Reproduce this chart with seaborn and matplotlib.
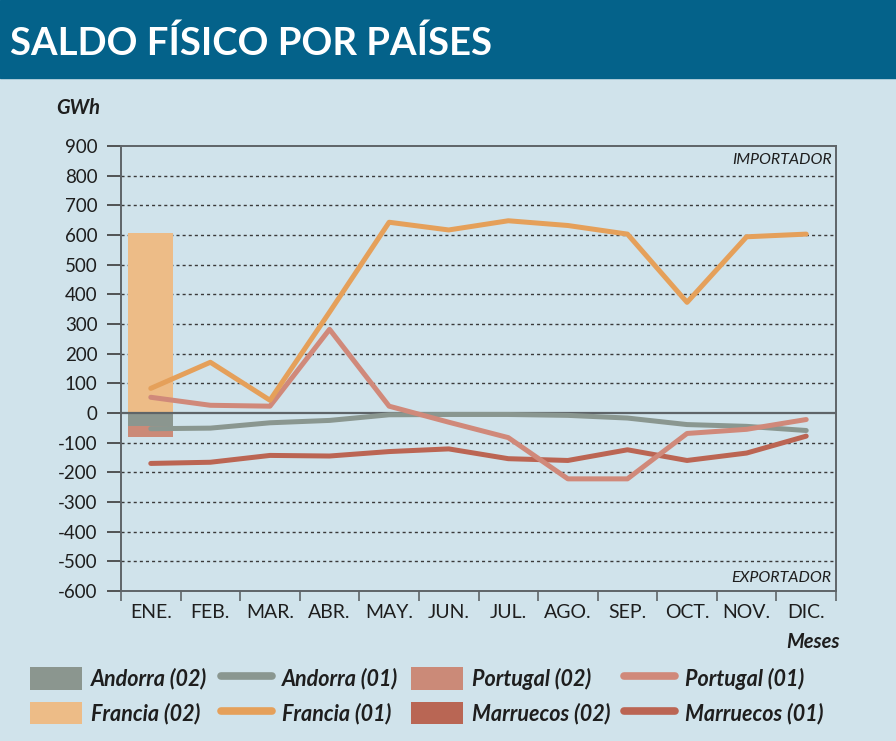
import numpy as np
import pandas as pd
import matplotlib
matplotlib.use('Agg')
import matplotlib.pyplot as plt
import seaborn as sns
from matplotlib.patches import Patch, Rectangle
from matplotlib.lines import Line2D
from matplotlib.ticker import FixedLocator

# datos (GWh)
months = ['ENE.', 'FEB.', 'MAR.', 'ABR.', 'MAY.', 'JUN.',
          'JUL.', 'AGO.', 'SEP.', 'OCT.', 'NOV.', 'DIC.']
andorra_01   = [-53, -51, -33, -25, -6, -5, -5, -8, -17, -39, -45, -59]
portugal_01  = [53, 26, 23, 282, 23, -31, -83, -222, -222, -69, -55, -22]
francia_01   = [83, 171, 43, 340, 643, 617, 648, 632, 603, 373, 594, 603]
marruecos_01 = [-170, -166, -143, -145, -130, -121, -154, -160, -124, -160, -135, -78]

# saldo (02): solo enero
bar_month = 'ENE.'
andorra_02, portugal_02, francia_02, marruecos_02 = -45, -80, 607, -82

yticks = list(range(-600, 1000, 100))

BG = '#d0e3eb'
HEADER = '#04628a'
line_colors = {'Andorra': '#8a9790', 'Portugal': '#d0897a',
               'Francia': '#e5a05a', 'Marruecos': '#bb6553'}
bar_colors = {'Andorra': '#8b968f', 'Portugal': '#cb8a78',
              'Francia': '#edbc87', 'Marruecos': '#b96654'}

sns.set_theme(style='white')
plt.rcParams['font.family'] = ['Lato', 'DejaVu Sans']

df_lines = pd.DataFrame({
    'pos': list(range(len(months))) * 4,
    'valor': andorra_01 + marruecos_01 + portugal_01 + francia_01,
    'serie': (['Andorra'] * 12 + ['Marruecos'] * 12 +
              ['Portugal'] * 12 + ['Francia'] * 12),
})
df_bars = pd.DataFrame({
    'mes': [bar_month] * 4,
    'valor': [marruecos_02, portugal_02, andorra_02, francia_02],
    'serie': ['Marruecos', 'Portugal', 'Andorra', 'Francia'],
})

fig = plt.figure(figsize=(8.96, 7.41), dpi=100, facecolor=BG)
ax = fig.add_axes([121 / 896, 150 / 741, 715 / 896, 445 / 741])
ax.set_facecolor(BG)

# rejilla
for v in yticks[1:-1]:
    if v == 0:
        continue
    ax.axhline(v, color='#3a3a3a', lw=1.0, ls=(0, (2.2, 2.2)), zorder=0.5)

sns.barplot(data=df_bars, x='mes', y='valor', hue='serie', order=months,
            hue_order=['Marruecos', 'Portugal', 'Andorra', 'Francia'],
            palette=bar_colors, dodge=False, width=0.75, saturation=1,
            linewidth=0, edgecolor='none',
            legend=False, ax=ax, zorder=1)

ax.axhline(0, color='#5e6468', lw=1.6, zorder=2)

sns.lineplot(data=df_lines, x='pos', y='valor', hue='serie',
             hue_order=['Andorra', 'Marruecos', 'Portugal', 'Francia'],
             palette=line_colors, linewidth=3.6, legend=False, sort=False,
             ax=ax, zorder=3)
for ln in ax.lines:
    ln.set_solid_capstyle('round')

ax.set_xlim(-0.5, 11.5)
ax.set_ylim(-600, 900)
ax.set_xlabel('')
ax.set_ylabel('')

for s in ax.spines.values():
    s.set_visible(True)
    s.set_color('#5e6468')
    s.set_linewidth(1.4)

ax.set_yticks(yticks)
ax.set_yticklabels([str(v) for v in yticks])
ax.tick_params(axis='y', which='major', left=True, direction='out', length=10,
               width=1.2, color='#3a3a3a', pad=7, labelsize=13.5, labelcolor='#1e1e1e')

ax.xaxis.set_major_locator(FixedLocator(range(len(months))))
ax.set_xticklabels(months)
ax.xaxis.set_minor_locator(FixedLocator(np.arange(-0.5, 12, 1)))
ax.tick_params(axis='x', which='major', bottom=True, length=0, pad=9,
               labelsize=14, labelcolor='#1e1e1e')
ax.tick_params(axis='x', which='minor', bottom=True, direction='out', length=7,
               width=1.2, color='#5e6468')

ax.text(0.994, 0.968, 'IMPORTADOR', transform=ax.transAxes, ha='right', va='center',
        fontsize=11.5, fontstyle='italic', color='#1e1e1e')
ax.text(0.994, 0.029, 'EXPORTADOR', transform=ax.transAxes, ha='right', va='center',
        fontsize=11.5, fontstyle='italic', color='#1e1e1e')

fig.text(100 / 896, 1 - 108 / 741, 'GWh', ha='right', va='center', fontsize=14.5,
         fontweight='bold', fontstyle='italic', color='#1e1e1e')
fig.text(840 / 896, 1 - 642 / 741, 'Meses', ha='right', va='center', fontsize=14.5,
         fontweight='bold', fontstyle='italic', color='#1e1e1e')

# cabecera
fig.add_artist(Rectangle((0, 1 - 78 / 741), 1, 78 / 741, transform=fig.transFigure,
                         color=HEADER, zorder=0))
fig.text(10 / 896, 1 - 43 / 741, 'SALDO FÍSICO POR PAÍSES', ha='left', va='center',
         fontsize=27.5, fontweight='bold', color='white')

# leyenda
def patch(c):
    return Patch(facecolor=bar_colors[c], edgecolor='none')

def line(c):
    return Line2D([], [], color=line_colors[c], lw=5.5, solid_capstyle='round')

handles = [patch('Andorra'), patch('Francia'), line('Andorra'), line('Francia'),
           patch('Portugal'), patch('Marruecos'), line('Portugal'), line('Marruecos')]
labels = ['Andorra (02)', 'Francia (02)', 'Andorra (01)', 'Francia (01)',
          'Portugal (02)', 'Marruecos (02)', 'Portugal (01)', 'Marruecos (01)']
leg = fig.legend(handles, labels, ncol=4, loc='upper left',
                 bbox_to_anchor=(30 / 896, 1 - 667 / 741), frameon=False,
                 borderpad=0, borderaxespad=0, handlelength=2.4, handleheight=1.25,
                 handletextpad=0.45, columnspacing=0.6, labelspacing=0.55,
                 prop={'size': 15.5, 'weight': 'bold', 'style': 'italic'})
for t in leg.get_texts():
    t.set_color('#1e1e1e')

fig.savefig('out.png', dpi=100, facecolor=BG)
